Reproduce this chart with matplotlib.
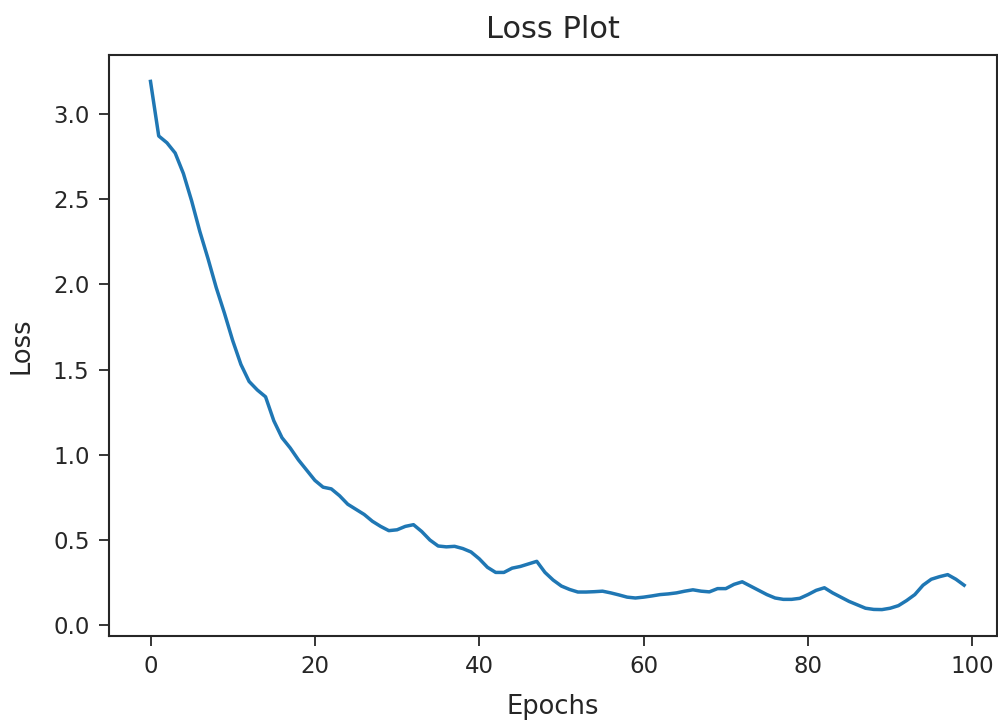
import matplotlib
matplotlib.use("Agg")
import matplotlib.pyplot as plt

epochs = list(range(100))
loss = [
    3.19, 2.87, 2.83, 2.77, 2.65, 2.49, 2.31, 2.15, 1.98, 1.83,
    1.67, 1.53, 1.43, 1.38, 1.34, 1.20, 1.10, 1.04, 0.97, 0.91,
    0.85, 0.81, 0.80, 0.76, 0.71, 0.68, 0.65, 0.61, 0.58, 0.555,
    0.56, 0.58, 0.59, 0.55, 0.50, 0.465, 0.46, 0.463, 0.45, 0.43,
    0.39, 0.34, 0.31, 0.31, 0.335, 0.345, 0.36, 0.375, 0.31, 0.265,
    0.23, 0.21, 0.195, 0.195, 0.197, 0.20, 0.19, 0.178, 0.165, 0.16,
    0.165, 0.172, 0.18, 0.184, 0.19, 0.20, 0.208, 0.20, 0.196, 0.215,
    0.215, 0.24, 0.255, 0.23, 0.205, 0.18, 0.16, 0.152, 0.152, 0.158,
    0.18, 0.205, 0.22, 0.19, 0.165, 0.14, 0.12, 0.10, 0.093, 0.092,
    0.10, 0.115, 0.145, 0.18, 0.235, 0.27, 0.285, 0.297, 0.27, 0.235,
]

W, H = 998, 720
fig = plt.figure(figsize=(W / 100, H / 100), dpi=100)
ax = fig.add_axes([109 / W, 1 - 636 / H, (997 - 109) / W, (636 - 55) / H])
ax.plot(epochs, loss, color="#1f77b4", linewidth=2.5)
ax.set_xlim(-5.05, 103.0)
ax.set_title("Loss Plot", fontsize=22, pad=12, color="#262626")
ax.set_xlabel("Epochs", fontsize=18.5, color="#262626", labelpad=11)
ax.set_ylabel("Loss", fontsize=18.5, color="#262626", labelpad=13)
ax.tick_params(labelsize=16.5, length=7, width=1.3, pad=7, colors="#262626")
for s in ax.spines.values():
    s.set_linewidth(1.5)
    s.set_color("#262626")
fig.savefig("out.png", dpi=100)
